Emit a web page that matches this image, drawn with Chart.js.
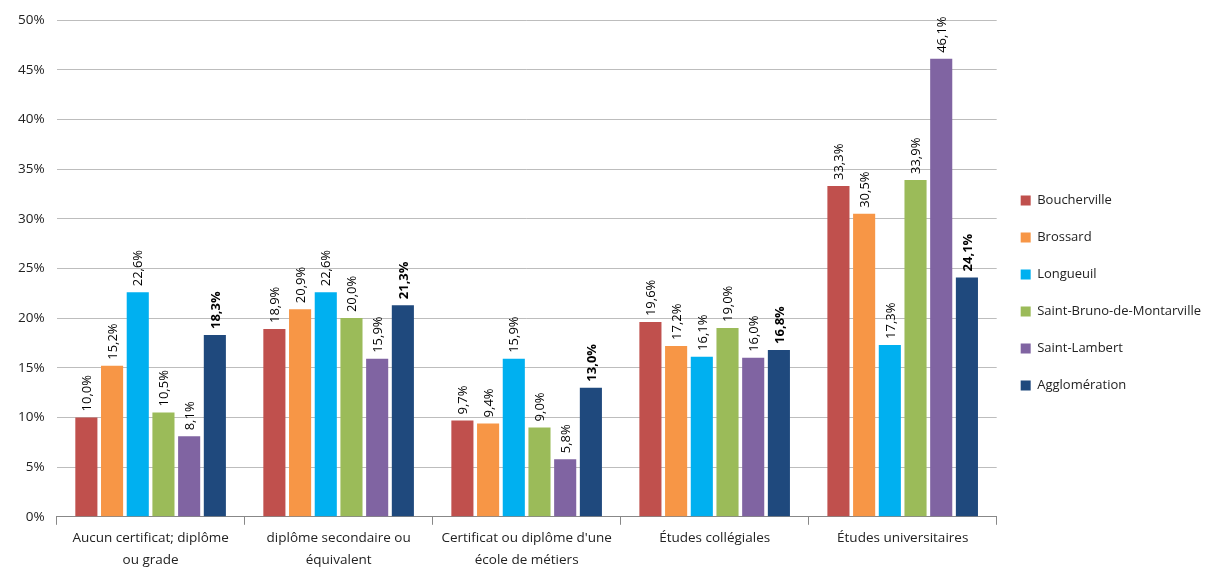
<!DOCTYPE html>
<html>
<head>
<meta charset="utf-8">
<script src="https://cdn.jsdelivr.net/npm/chart.js@4"></script>
<style>
  html, body { margin: 0; padding: 0; background: #fff; }
  #wrap { width: 1219px; height: 576px; }
</style>
</head>
<body>
<div id="wrap"><canvas id="chartScolarite"></canvas></div>
<script>
const categories = [
    ['Aucun certificat; diplôme', 'ou grade'],
    ['diplôme secondaire ou', 'équivalent'],
    ['Certificat ou diplôme d\'une', 'école de métiers'],
    'Études collégiales',
    'Études universitaires'
];
const villes = ['Boucherville', 'Brossard', 'Longueuil', 'Saint-Bruno-de-Montarville', 'Saint-Lambert', 'Agglomération'];
const boucherville = [10.0, 18.9, 9.7, 19.6, 33.3];
const brossard = [15.2, 20.9, 9.4, 17.2, 30.5];
const longueuil = [22.6, 22.6, 15.9, 16.1, 17.3];
const saintBruno = [10.5, 20.0, 9.0, 19.0, 33.9];
const saintLambert = [8.1, 15.9, 5.8, 16.0, 46.1];
const agglomeration = [18.3, 21.3, 13.0, 16.8, 24.1];
const yTicks = [0, 5, 10, 15, 20, 25, 30, 35, 40, 45, 50];

const colores = ['#C0504D', '#F79646', '#00B0F0', '#9BBB59', '#8064A2', '#1F497D'];
const series = [boucherville, brossard, longueuil, saintBruno, saintLambert, agglomeration];

const fmt = v => v.toFixed(1).replace('.', ',') + '%';

// etiquettes verticales au-dessus des barres
const etiquettes = {
    id: 'etiquettes',
    afterDatasetsDraw(chart) {
        const ctx = chart.ctx;
        chart.data.datasets.forEach((ds, i) => {
            const meta = chart.getDatasetMeta(i);
            meta.data.forEach((bar, j) => {
                ctx.save();
                ctx.translate(bar.x + 1, bar.y - 6);
                ctx.rotate(-Math.PI / 2);
                ctx.font = (i === 5 ? 'bold ' : '') + '13px "Open Sans", sans-serif';
                ctx.fillStyle = '#000';
                ctx.textAlign = 'left';
                ctx.textBaseline = 'middle';
                ctx.fillText(fmt(ds.data[j]), 0, 0);
                ctx.restore();
            });
        });
    }
};

new Chart(document.getElementById('chartScolarite'), {
    type: 'bar',
    data: {
        labels: categories,
        datasets: villes.map((v, i) => ({
            label: v,
            data: series[i],
            backgroundColor: colores[i],
            borderWidth: 0
        }))
    },
    plugins: [etiquettes],
    options: {
        responsive: true,
        maintainAspectRatio: false,
        animation: false,
        layout: { padding: { top: 12, right: 8, left: 6, bottom: 2 } },
        datasets: {
            bar: { categoryPercentage: 0.82, barPercentage: 0.86 }
        },
        plugins: {
            legend: {
                position: 'right',
                labels: {
                    boxWidth: 10,
                    boxHeight: 10,
                    padding: 24,
                    color: '#222',
                    font: { size: 13, family: '"Open Sans", sans-serif' }
                }
            },
            tooltip: { enabled: false }
        },
        scales: {
            x: {
                grid: { display: true, drawOnChartArea: false, tickLength: 8, color: '#888' },
                border: { color: '#888' },
                ticks: {
                    color: '#222',
                    maxRotation: 0,
                    autoSkip: false,
                    font: { size: 13.5, family: '"Open Sans", sans-serif', lineHeight: 1.6 }
                }
            },
            y: {
                min: 0,
                max: 50,
                afterBuildTicks: axis => { axis.ticks = yTicks.map(v => ({ value: v })); },
                grid: { color: '#bdbdbd', drawTicks: false },
                border: { display: false },
                ticks: {
                    color: '#222',
                    padding: 12,
                    font: { size: 13.5, family: '"Open Sans", sans-serif' },
                    callback: v => v + '%'
                }
            }
        }
    }
});
</script>
</body>
</html>
